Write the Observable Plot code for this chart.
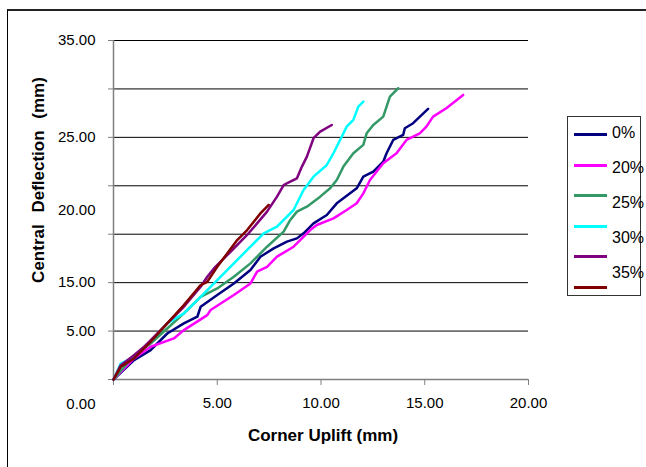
<!DOCTYPE html>
<html>
<head>
<meta charset="utf-8">
<script src="https://cdn.jsdelivr.net/npm/d3@7"></script>
<script src="https://cdn.jsdelivr.net/npm/@observablehq/plot@0.6"></script>
<style>
  html, body { margin: 0; padding: 0; background: #fff; }
  #wrap { position: relative; width: 646px; height: 467px; overflow: hidden;
          font-family: "Liberation Sans", Arial, sans-serif; }
  #frame { position: absolute; left: 7px; top: 9px; width: 700px; height: 500px;
           border-top: 2px solid #222; border-left: 1px solid #000; box-sizing: border-box; }
  #legend { position: absolute; left: 567px; top: 116px; width: 74px; height: 180px;
            border: 1px solid #333; box-sizing: border-box; background: #fff; }
  .sw { position: absolute; left: 6px; width: 33px; height: 3px; }
  .lab { position: absolute; left: 44px; font-size: 16px; line-height: 16px; color: #000; }
  svg { position: absolute; left: 0; top: 0; }
</style>
</head>
<body>
<div id="wrap">
  <div id="frame"></div>
  <div id="chart"></div>
  <div id="legend"></div>
</div>
<script>
// Series: corner uplift (mm) vs central deflection (mm)
const seriesKeys   = ["s0", "s20", "s25", "s30", "s35", "s40"];
const seriesColors = ["#000080", "#FF00FF", "#339966", "#00FFFF", "#800080", "#800000"];
const legendLabels = ["0%", "20%", "25%", "30%", "35%"];

const uplift0  = [0, 0.99, 1.79, 2.59, 3.39, 4.04, 4.20, 5.00, 5.80, 6.60, 7.08, 7.72, 8.36, 8.84, 9.16, 9.64, 10.28, 10.76, 11.40, 11.72, 12.04, 12.52, 13.00, 13.16, 13.48, 13.96, 14.04, 14.44, 15.16];
const deflect0 = [0, 2.00, 3.03, 4.75, 5.79, 6.48, 7.51, 8.72, 9.92, 11.30, 12.68, 13.54, 14.23, 14.57, 15.09, 16.12, 16.98, 18.19, 19.22, 19.74, 20.94, 21.46, 22.49, 23.36, 24.73, 25.25, 25.94, 26.46, 27.94];

const uplift20  = [0, 0.99, 1.79, 2.91, 3.39, 4.52, 4.68, 5.80, 6.60, 6.92, 7.40, 7.88, 8.68, 9.48, 9.80, 10.60, 11.24, 11.72, 12.04, 12.36, 13.00, 13.64, 14.12, 14.76, 15.08, 15.40, 16.04, 16.85];
const deflect20 = [0, 2.17, 3.38, 4.24, 5.10, 6.65, 7.17, 8.72, 9.92, 11.13, 11.64, 12.68, 13.71, 15.43, 15.95, 16.64, 17.50, 18.19, 19.22, 20.60, 22.32, 23.36, 24.73, 25.42, 26.11, 27.14, 28.01, 29.38];

const uplift25  = [0, 0.99, 1.79, 2.59, 3.39, 4.20, 5.00, 5.80, 6.60, 7.40, 8.20, 8.52, 8.84, 9.32, 9.96, 10.44, 10.76, 11.08, 11.56, 12.04, 12.20, 12.52, 13.00, 13.32, 13.72];
const deflect25 = [0, 2.51, 3.72, 5.27, 6.82, 8.54, 9.40, 10.61, 11.99, 13.71, 15.26, 16.47, 17.33, 17.84, 18.88, 19.74, 20.60, 21.98, 23.36, 24.22, 25.42, 26.28, 27.14, 29.21, 30.07];

const uplift30  = [0, 0.35, 0.99, 1.79, 2.59, 3.39, 4.20, 5.00, 5.80, 6.60, 7.24, 7.88, 8.68, 9.16, 9.64, 10.28, 10.60, 10.92, 11.24, 11.56, 11.80, 12.04];
const deflect30 = [0, 1.65, 2.34, 3.89, 5.79, 6.82, 8.54, 10.27, 11.99, 13.71, 15.09, 15.78, 17.50, 19.57, 20.94, 22.15, 23.36, 24.73, 26.11, 26.80, 28.18, 28.69];

const uplift35  = [0, 0.35, 0.99, 1.47, 1.95, 2.59, 3.39, 4.20, 4.52, 4.84, 5.64, 6.44, 6.92, 7.40, 7.88, 8.20, 8.52, 8.84, 9.08, 9.32, 9.64, 9.96, 10.52];
const deflect35 = [0, 1.48, 2.51, 3.38, 4.41, 5.79, 7.51, 9.58, 10.61, 11.47, 13.19, 14.92, 16.12, 17.33, 18.88, 20.08, 20.43, 20.77, 21.98, 23.01, 24.91, 25.59, 26.28];

const uplift40  = [0, 0.35, 0.99, 1.79, 2.59, 3.39, 4.20, 4.52, 5.00, 5.48, 5.96, 6.44, 6.76, 7.08, 7.48];
const deflect40 = [0, 1.31, 2.17, 3.89, 5.79, 7.68, 9.75, 10.09, 11.64, 13.02, 14.40, 15.43, 16.29, 17.15, 18.02];

// Axis ticks and their printed labels
const xTickValues = [5, 10, 15, 20];
const xTickLabels = ["5.00", "10.00", "15.00", "20.00"];
const yGridValues = [0, 5, 10, 15, 20, 25, 30, 35];
const yLabelValues = [35, 25, 17.5, 10, 5, -2.5];
const yLabelTexts  = ["35.00", "25.00", "20.00", "15.00", "5.00", "0.00"];

const xTitle = "Corner Uplift (mm)";
const yTitle = "Central Deflection (mm)";

const upliftSets  = [uplift0, uplift20, uplift25, uplift30, uplift35, uplift40];
const deflectSets = [deflect0, deflect20, deflect25, deflect30, deflect35, deflect40];

const rows = seriesKeys.flatMap((key, s) =>
  upliftSets[s].map((u, i) => ({series: key, uplift: u, deflection: deflectSets[s][i]})));

const xLabel = new Map(xTickValues.map((v, i) => [v, xTickLabels[i]]));
const yLabel = new Map(yLabelValues.map((v, i) => [v, yLabelTexts[i]]));

const font = "'Liberation Sans', Arial, sans-serif";

const chart = Plot.plot({
  width: 646,
  height: 467,
  marginLeft: 113,
  marginRight: 118,
  marginTop: 40,
  marginBottom: 88,
  style: {fontFamily: font, fontSize: "15px", color: "#000", background: "transparent", overflow: "visible"},
  x: {domain: [0, 20], axis: null},
  y: {domain: [0, 35], axis: null},
  color: {domain: seriesKeys, range: seriesColors},
  marks: [
    // horizontal gridlines
    Plot.ruleY(yGridValues.filter(d => d > 0), {stroke: "#000", strokeWidth: 1}),
    // axis lines
    Plot.ruleY([0], {stroke: "#808080", strokeWidth: 1.5}),
    Plot.ruleX([0], {stroke: "#808080", strokeWidth: 1.5}),
    // tick marks
    Plot.axisY({ticks: yGridValues, tickFormat: () => "", tickSize: 5, stroke: "#808080", label: null}),
    Plot.axisX({ticks: [0, ...xTickValues], tickFormat: () => "", tickSize: 6, stroke: "#808080", label: null}),
    // tick labels
    Plot.axisY({ticks: yLabelValues, tickFormat: d => yLabel.get(d), tickSize: 0, tickPadding: 18,
                fontSize: 15, fill: "#000", label: null}),
    Plot.axisX({ticks: xTickValues, tickFormat: d => xLabel.get(d), tickSize: 0, tickPadding: 18,
                fontSize: 15, fill: "#000", label: null}),
    // data lines
    Plot.line(rows, {x: "uplift", y: "deflection", z: "series", stroke: "series",
                     strokeWidth: 2.5, strokeLinejoin: "round", strokeLinecap: "round"}),
    // axis titles
    Plot.text([yTitle], {frameAnchor: "left", textAnchor: "middle", dx: -75, dy: -30, rotate: -90,
               fontSize: 17, fontWeight: "bold", fill: "#000"}),
    Plot.text([xTitle], {frameAnchor: "bottom", dy: 61, dx: 2,
               fontSize: 17, fontWeight: "bold", fill: "#000"})
  ]
});
// wider gaps between the words of the vertical title
d3.select(chart).selectAll("text").filter(function() { return this.textContent === yTitle; })
  .style("word-spacing", "7px");
document.getElementById("chart").appendChild(chart);

// Legend box
const legend = document.getElementById("legend");
seriesColors.forEach((c, i) => {
  const sw = document.createElement("div");
  sw.className = "sw";
  sw.style.background = c;
  sw.style.top = (16 + i * 30.6) + "px";
  legend.appendChild(sw);
});
legendLabels.forEach((t, i) => {
  const lab = document.createElement("div");
  lab.className = "lab";
  lab.textContent = t;
  lab.style.top = (8 + i * 35) + "px";
  legend.appendChild(lab);
});
</script>
</body>
</html>
